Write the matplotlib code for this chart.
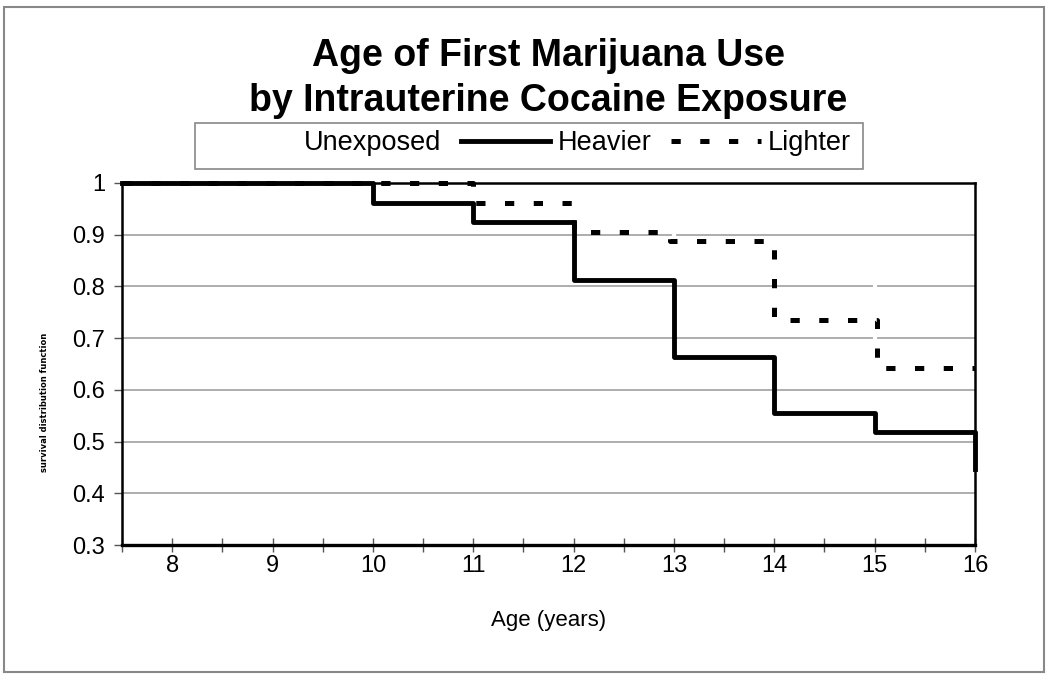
import matplotlib
matplotlib.use("Agg")
import matplotlib.pyplot as plt
from matplotlib.lines import Line2D
from matplotlib.patches import Rectangle
from matplotlib.ticker import MultipleLocator

plt.rcParams['font.family'] = ['Liberation Sans', 'DejaVu Sans']

# survival curves (age in years, survival distribution function)
unexposed_age = [7.5, 11, 12, 13, 14, 15, 16]
unexposed_surv = [1.0, 0.98, 0.96, 0.87, 0.83, 0.675, 0.655]

heavier_age = [7.5, 10, 11, 12, 13, 14, 15, 16]
heavier_surv = [1.0, 0.962, 0.925, 0.813, 0.663, 0.556, 0.519, 0.446]

lighter_age = [7.5, 11, 12, 12.96, 14, 15.02, 16]
lighter_surv = [1.0, 0.962, 0.905, 0.888, 0.735, 0.642, 0.642]

x_ticks = [8, 9, 10, 11, 12, 13, 14, 15, 16]
y_ticks = [0.3, 0.4, 0.5, 0.6, 0.7, 0.8, 0.9, 1.0]
y_labels = ['0.3', '0.4', '0.5', '0.6', '0.7', '0.8', '0.9', '1']

DASH = (1.85, 3.9)

fig = plt.figure(figsize=(10.5, 6.84), dpi=100)
ax = fig.add_axes([122/1050, 1 - 545/684, (975-122)/1050, (545-183)/684])

ax.plot(unexposed_age, unexposed_surv, drawstyle='steps-post', color='white', lw=3, zorder=2)
ax.plot(heavier_age, heavier_surv, drawstyle='steps-post', color='black', lw=3.5, zorder=4, clip_on=False)
ax.plot(lighter_age, lighter_surv, drawstyle='steps-post', color='black', lw=3.6,
        dashes=DASH, zorder=5, clip_on=False)

ax.set_xlim(7.5, 16)
ax.set_ylim(0.3, 1.0)
ax.set_xticks(x_ticks)
ax.xaxis.set_minor_locator(MultipleLocator(0.5))
ax.set_yticks(y_ticks)
ax.set_yticklabels(y_labels)
ax.tick_params(axis='x', which='both', direction='inout', length=10, width=1, color='#555555',
               labelsize=17, pad=2)
ax.tick_params(axis='y', direction='out', length=6, width=1, color='#555555', labelsize=17, pad=6)
ax.grid(axis='y', color='#a0a0a0', lw=1.2)
ax.set_axisbelow(True)
for side in ['left', 'right', 'top']:
    ax.spines[side].set_linewidth(1.8)
ax.spines['bottom'].set_linewidth(2.4)

ax.set_xlabel('Age (years)', fontsize=16, labelpad=24)

fig.text(45/1050, 1 - 402/684, 'survival distribution function', rotation=90, ha='center', va='center',
         fontsize=6, fontweight='bold', family=['Liberation Sans Narrow', 'DejaVu Sans'])

fig.text(0.522, 1 - 56/684, 'Age of First Marijuana Use', ha='center', va='center',
         fontsize=27, fontweight='bold')
fig.text(0.522, 1 - 101/684, 'by Intrauterine Cocaine Exposure', ha='center', va='center',
         fontsize=27, fontweight='bold')

# legend box
fig.patches.append(Rectangle((195/1050, 1 - 169/684), (863-195)/1050, 46/684,
                             transform=fig.transFigure, fill=False, edgecolor='#888888', lw=1.2))
handles = [Line2D([], [], color='white', lw=3),
           Line2D([], [], color='black', lw=3.5),
           Line2D([], [], color='black', lw=3.6, dashes=DASH)]
fig.legend(handles, ['Unexposed', 'Heavier', 'Lighter'], ncol=3, frameon=False,
           loc='center', bbox_to_anchor=(529/1050, 1 - 143/684), fontsize=19.5,
           handlelength=3.3, handletextpad=0.25, columnspacing=0.75)

# outer frame
fig.patches.append(Rectangle((4/1050, 1 - 672/684), 1040/1050, 665/684,
                             transform=fig.transFigure, fill=False, edgecolor='#888888', lw=1.5))

fig.savefig('out.png', dpi=100)
